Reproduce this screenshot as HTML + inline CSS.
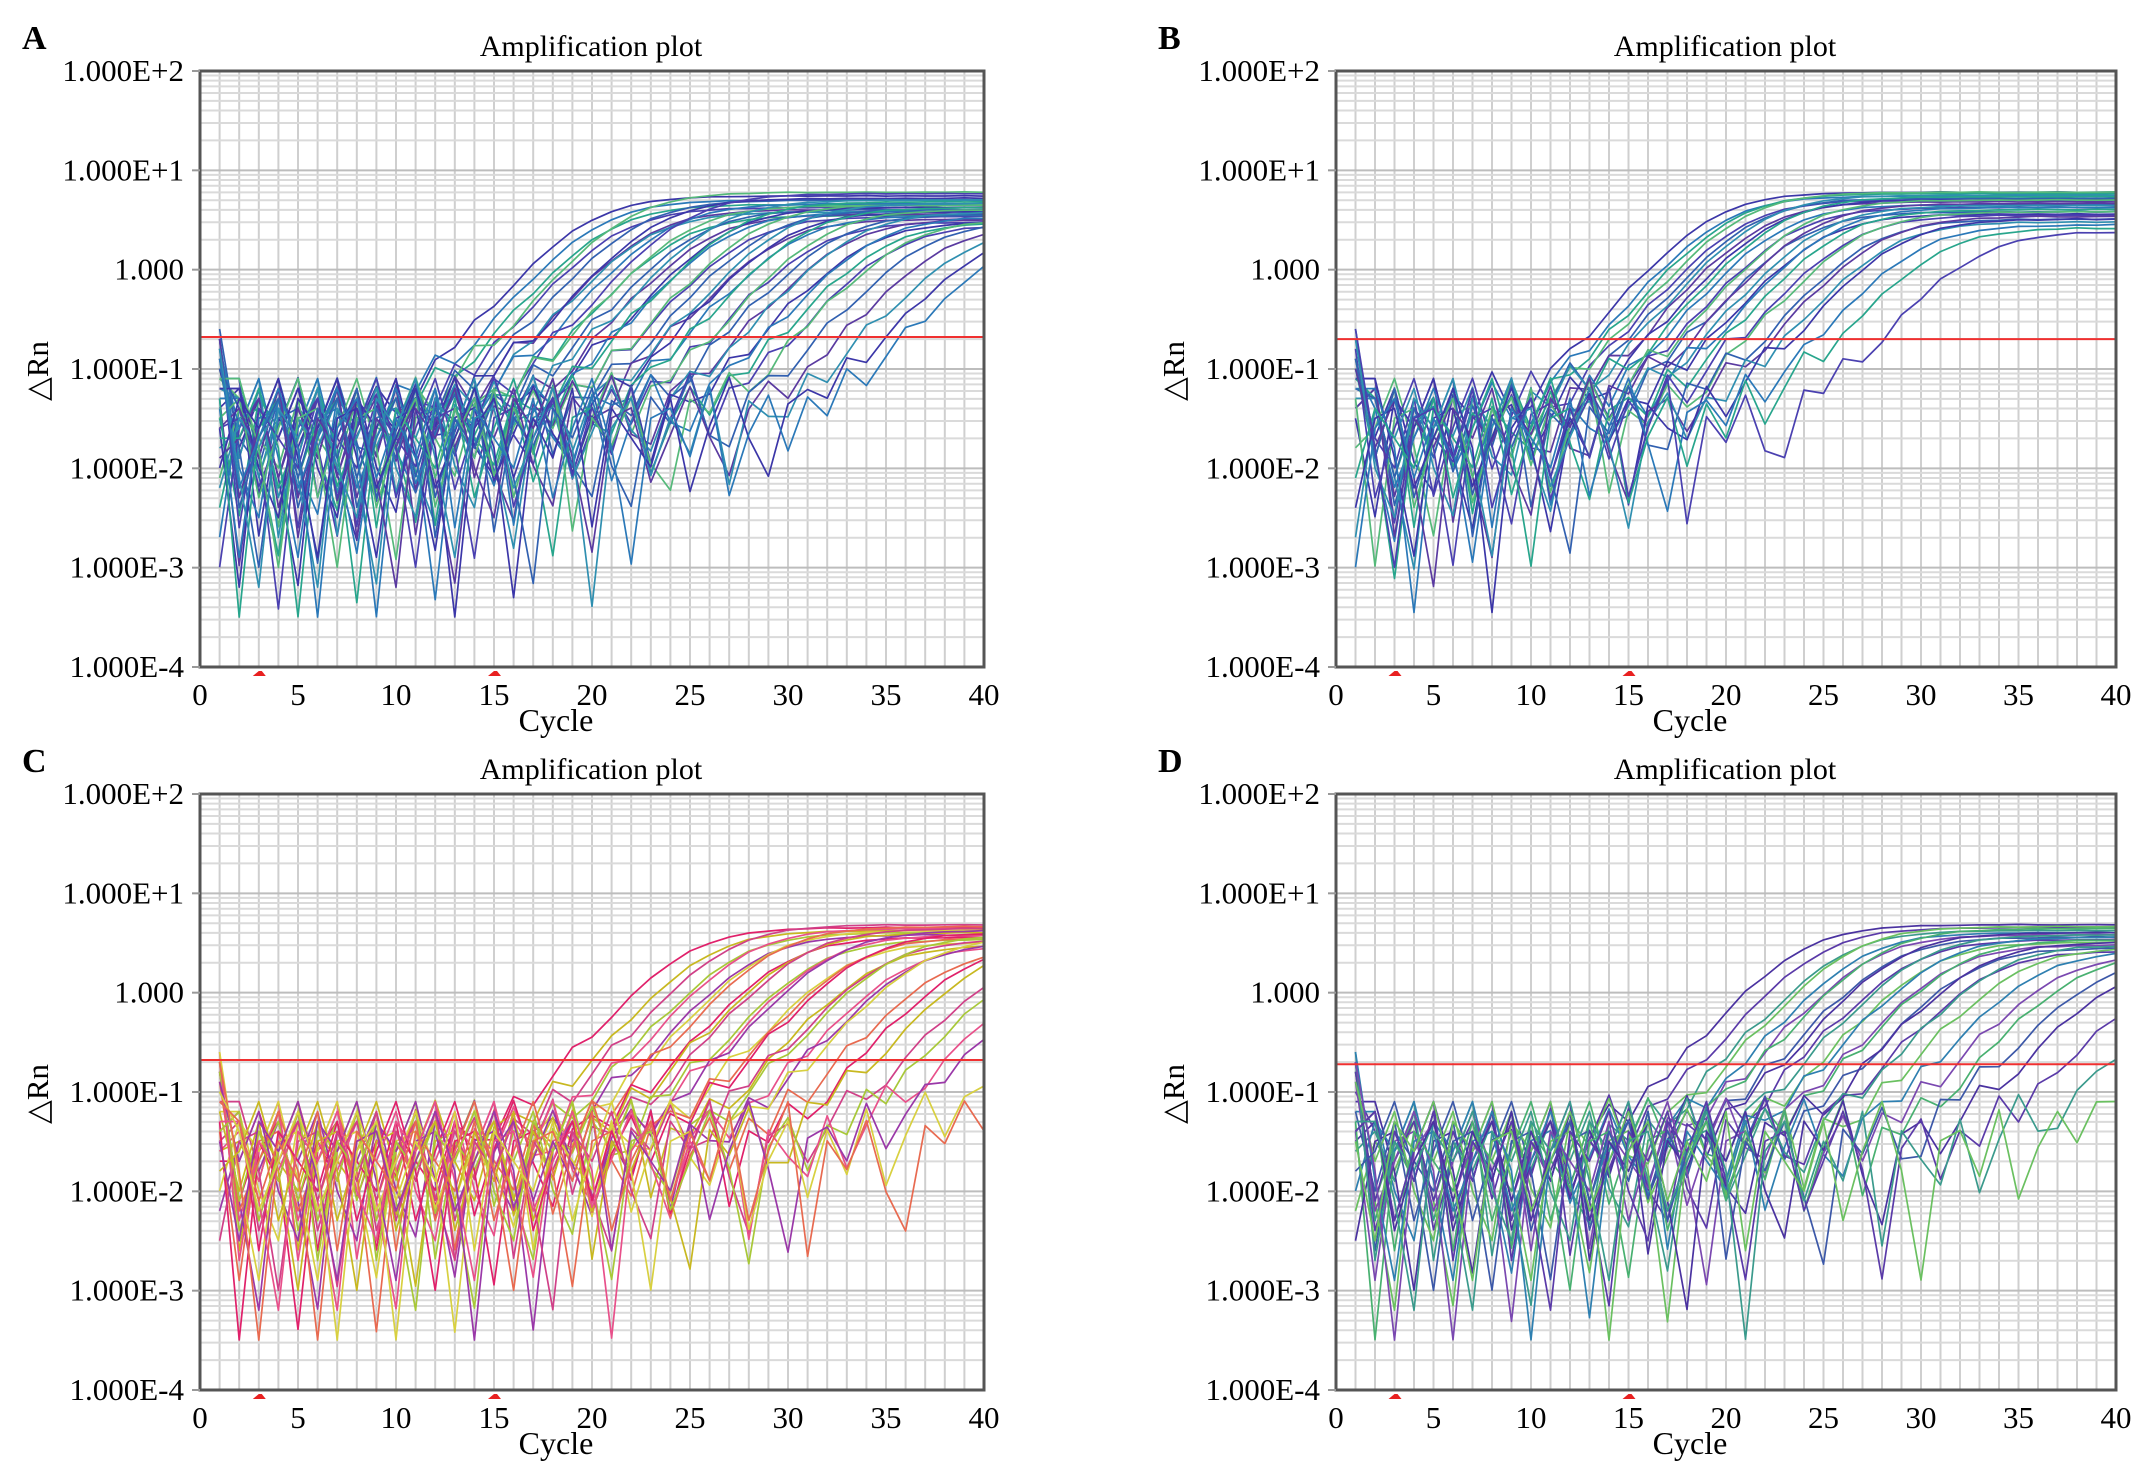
<!DOCTYPE html>
<html><head><meta charset="utf-8">
<style>
html,body{margin:0;padding:0;background:#fff;}
svg{display:block;font-family:"Liberation Serif",serif;}
</style></head>
<body>
<svg id="fig" width="2134" height="1475" viewBox="0 0 2134 1475" xmlns="http://www.w3.org/2000/svg"></svg>
<script>
// ---- data ----
const yTickLabels = ["1.000E+2","1.000E+1","1.000","1.000E-1","1.000E-2","1.000E-3","1.000E-4"];
const xTicks = [0,5,10,15,20,25,30,35,40];
const panelLabels = ["A","B","C","D"];
const thresholdA = 0.21, thresholdB = 0.2, thresholdC = 0.21, thresholdD = 0.19;
// baseline noise (log10 ΔRn)
const noise = [-1.3,-1.8,-1.1,-2.2,-1.5,-1.0,-2.6,-1.4,-1.7,-1.2,-2.0,-3.1,-1.3,-1.6,-1.1,-1.9,-2.4,-1.2,-1.5,-1.0,-1.8,-2.8,-1.4,-1.3,-2.1,-1.6,-1.1,-1.7,-3.4,-1.5,-1.2,-2.0,-1.4,-1.8,-1.1,-2.5,-1.3,-1.6,-1.9,-1.2,-2.2,-1.5,-1.0,-1.7,-2.9,-1.4,-1.3,-1.8,-1.1,-2.3,-1.6,-1.2,-2.0];
// sigmoid midpoints (cycle) per curve, plateaus
const midsA = [19.5,20,20.5,21,21.5,22,22.5,22.5,23,23.5,24,24.5,24.5,25,25.5,26,26.5,26.5,27,27.5,28,28.5,29,29.5,29.5,30,30.5,31,31.5,32,32.5,33,33.5,34,34.5,35,35.5,36.5,37.5,38.5,39.5,40.5];
const plateauA = [5.5,5,4.5,4.2,6,5,4,3.8,5.2,4.6,3.5,5.8,4.4,4,3.6,5,4.2,3.8,4.8,3.4,4.5,4,3.2,4.6,3.8,3.5,4.2,3,4,3.6,3.2,3.8,3,3.4,3,2.8,3.2,3,2.8,2.6,2.5,2.4];
const midsB = [19,19.5,20,20.5,20.5,21,21.5,21.5,22,22.5,22.5,23,23.5,23.5,24,24.5,24.5,25,25.5,26,26.5,27,27.5,28,28.5,29.5,30.5,32.5];
const plateauB = [6,5.5,5.8,5,6,5.2,4.8,5.6,5,4.5,5.4,4.2,5,3.8,4.6,4.4,3.6,4.2,4,3.5,3.8,3.2,3.4,3,3.2,2.8,2.6,2.4];
const midsC = [24.5,25.5,26.5,27,27.5,28,28.5,29,29.5,30,30.5,31,31.5,32,32.5,33,33.5,34,34.5,35,35.5,36,36.5,37.5,38.5,39.5,40.5,41.5,42.5,43.5,45.5,47.5];
const plateauC = [4.5,4.2,4.8,4,4.4,3.8,4.2,4.6,3.6,4,4.4,3.4,3.8,4.2,3.2,3.6,4,3,3.4,3.8,3,3.2,3.6,2.8,3,3.2,2.6,2.8,2.4,2.6,2.2,2];
const midsD = [23.5,24.5,25.5,26,26.5,27,27.5,28,28.5,29,29.5,30,30.5,31,31.5,32,32.5,33,33.5,34.5,35.5,36.5,37.5,38.5,39.5,41.5,43.5,45.5];
const plateauD = [4.8,4.5,4.2,4.6,4,3.8,4.4,3.6,4,3.4,3.8,3.2,3.6,3,3.4,2.8,3.2,2.6,3,2.8,2.6,2.4,2.4,2.2,2,1.8,1.6,1.5];
const colorsAB = ["#3b36a8","#2a78b8","#27a58c","#4a40b0","#55b97a","#3160b0","#5a3aa0","#2f8fb0"];
const colorsC = ["#e0206a","#c8b820","#d04088","#a8c838","#e8508a","#9a38a8","#d8d040","#e86a50"];
const colorsD = ["#4a32a0","#5a3aa8","#3a9a8c","#6ac060","#2e7fb0","#7a48b0","#48b070","#3c58a8"];

const panels = [
  {label:"A", x:200, y:71, w:784, h:596, mids:midsA, plat:plateauA, thr:thresholdA, colors:colorsAB, off:0},
  {label:"B", x:1336, y:71, w:780, h:596, mids:midsB, plat:plateauB, thr:thresholdB, colors:colorsAB, off:11},
  {label:"C", x:200, y:794, w:784, h:596, mids:midsC, plat:plateauC, thr:thresholdC, colors:colorsC, off:23},
  {label:"D", x:1336, y:794, w:780, h:596, mids:midsD, plat:plateauD, thr:thresholdD, colors:colorsD, off:37}
];

const NS = "http://www.w3.org/2000/svg";
const svg = document.getElementById("fig");
function mk(tag, attrs, parent){
  const e = document.createElementNS(NS, tag);
  for (const k in attrs) e.setAttribute(k, attrs[k]);
  (parent||svg).appendChild(e);
  return e;
}

panels.forEach((p, pi) => {
  const g = mk("g", {});
  
  
  const xs = c => p.x + c / 40 * p.w;
  const ys = lv => p.y + (2 - lv) / 6 * p.h;

  const lab = mk("text", {x:p.x-178, y:p.y-22, "font-size":34, "font-weight":"bold"}, g);
  lab.textContent = p.label;
  
  
  const t = mk("text", {x:p.x + p.w*0.5 - 1, y:p.y-15, "font-size":30, "text-anchor":"middle"}, g);
  t.textContent = "Amplification plot";
  
  

  const grid = mk("g", {stroke:"#cfcfcf","stroke-width":2}, g);
  
  
  for (let c = 1; c < 40; c++) mk("line", {x1:xs(c), x2:xs(c), y1:p.y, y2:p.y+p.h}, grid);
  for (let d = -4; d < 2; d++) {
    for (let m = 1; m < 10; m++) {
      const lv = d + Math.log10(m);
      mk("line", {x1:p.x, x2:p.x+p.w, y1:ys(lv), y2:ys(lv), stroke: m===1?"#bdbdbd":"#dadada"}, grid);
    }
  }

  const cg = mk("g", {fill:"none","stroke-width":1.7,"stroke-linejoin":"round"}, g);
  
  
  const clipId = "clip" + pi;
  const cp = mk("clipPath", {id:clipId}, g);
  mk("rect", {x:p.x, y:p.y, width:p.w, height:p.h}, cp);
  cg.setAttribute("clip-path", "url(#"+clipId+")");
  p.mids.forEach((mid, i) => {
    const plat = p.plat[i];
    let pts = [];
    for (let c = 1; c <= 40; c++) {
      const nv = noise[(c + i*7 + p.off) % noise.length];
      const base = Math.pow(10, nv + (c===1 ? 0.5 : 0));
      const sig = plat / (1 + Math.exp(-(c - mid) / 1.8));
      let lv = Math.log10(base * 0.8 + sig);
      if (lv < -4.2) lv = -4.2;
      pts.push(xs(c).toFixed(1) + "," + ys(lv).toFixed(1));
    }
    const pl = mk("polyline", {points:pts.join(" "), stroke:p.colors[i % p.colors.length]}, cg);
    
    
  });

  const th = mk("line", {x1:p.x, x2:p.x+p.w, y1:ys(Math.log10(p.thr)), y2:ys(Math.log10(p.thr)), stroke:"#f03030","stroke-width":2}, g);
  
  

  const fr = mk("rect", {x:p.x, y:p.y, width:p.w, height:p.h, fill:"none", stroke:"#555","stroke-width":3}, g);
  
  

  [3,15].forEach(c => {
    const mkr = mk("path", {d:`M${xs(c)-6},${p.y+p.h+9} L${xs(c)},${p.y+p.h+4} L${xs(c)+3},${p.y+p.h+4} L${xs(c)+7},${p.y+p.h+9} Z`, fill:"#e82020"}, g);
    
    
  });

  yTickLabels.forEach((s, k) => {
    const yy = p.y + k / 6 * p.h;
    const tt = mk("text", {x:p.x-16, y:yy+10, "font-size":31, "text-anchor":"end"}, g);
    tt.textContent = s;
    
    
    mk("line", {x1:p.x-8, x2:p.x, y1:yy, y2:yy, stroke:"#999","stroke-width":2}, g);
  });
  xTicks.forEach(c => {
    const tt = mk("text", {x:xs(c), y:p.y+p.h+38, "font-size":31, "text-anchor":"middle"}, g);
    tt.textContent = c;
    
    
  });
  const xl = mk("text", {x:p.x + p.w*0.5 - 36, y:p.y+p.h+64, "font-size":32, "text-anchor":"middle"}, g);
  xl.textContent = "Cycle";
  
  
  const yl = mk("text", {x:0, y:0, "font-size":31, "text-anchor":"middle", transform:`translate(${p.x-152},${p.y+300}) rotate(-90)`}, g);
  yl.textContent = "△Rn";
  
  
});
</script>
</body></html>
